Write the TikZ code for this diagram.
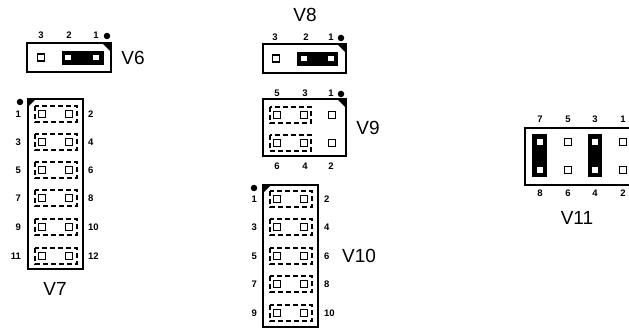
\documentclass[tikz,border=0pt]{standalone}
\usepackage{fontspec}
\setmainfont{Liberation Sans}
\tikzset{
	pin/.style={draw,fill=white,minimum size=7pt,inner sep=0pt,line width=1.1pt},
	num/.style={font=\fontsize{9.5}{10}\selectfont\bfseries,inner sep=0pt},
	tag/.style={font=\fontsize{19}{19}\selectfont,inner sep=0pt},
	hole/.style={fill=black,circle,minimum size=6.5pt,inner sep=0pt},
	board/.style={line width=1.1pt},
	jump/.style={dashed,dash pattern=on 5pt off 3pt,line width=1.1pt},
}
\begin{document}
\begin{tikzpicture}[x=1pt,y=-1pt]
	\useasboundingbox (0,0) rectangle (629,328);

	% V6
	\draw [board] (27,43) rectangle (111,72);
	\fill (111,43) -- (102,43) -- (111,52) -- cycle;
	\fill (62,51) rectangle (104,65);
	\node [pin] (v6a) at (41,57.5) {}; \node [pin] (v6b) at (68,57.5) {}; \node [pin] (v6c) at (96,57.5) {};
	\node [num] (v6n3) at (41,35) {3}; \node [num] (v6n2) at (69,35) {2}; \node [num] (v6n1) at (96,35) {1};
	\node [hole] (v6d) at (107,36) {};
	\node [tag] (v6) at (133,58) {V6};

	% V7
	\draw [board] (28,99) rectangle (83,269);
	\fill (28,99) -- (36,99) -- (28,107) -- cycle;
	\node [hole] (v7d) at (20,102) {};
	\foreach \i/\y/\l/\r in {1/114/1/2,2/142/3/4,3/170/5/6,4/198/7/8,5/227/9/10,6/256/11/12}{
		\draw [jump] (35,\y-8) rectangle (77,\y+8);
		\node [pin] (v7a\i) at (42,\y) {}; \node [pin] (v7b\i) at (69,\y) {};
		\node [num,anchor=east] (v7l\i) at (21,\y) {\l};
		\node [num,anchor=west] (v7r\i) at (88,\y) {\r};
	}
	\node [tag] (v7) at (55,289) {V7};

	% V8
	\node [tag] (v8) at (305,15) {V8};
	\draw [board] (263,44) rectangle (346,73);
	\fill (346,44) -- (337,44) -- (346,53) -- cycle;
	\fill (297,52) rectangle (338,66);
	\node [pin] (v8a) at (276,58.5) {}; \node [pin] (v8b) at (304,58.5) {}; \node [pin] (v8c) at (331,58.5) {};
	\node [num] (v8n3) at (275,37) {3}; \node [num] (v8n2) at (306,37) {2}; \node [num] (v8n1) at (331,37) {1};
	\node [hole] (v8d) at (341,38) {};

	% V9
	\draw [board] (263,99) rectangle (346,156);
	\fill (346,99) -- (337,99) -- (346,108) -- cycle;
	\foreach \i/\y in {1/115,2/143}{
		\draw [jump] (270,\y-8) rectangle (311,\y+8);
		\node [pin] (v9a\i) at (277,\y) {}; \node [pin] (v9b\i) at (304,\y) {}; \node [pin] (v9c\i) at (332,\y) {};
	}
	\foreach \x/\t/\b in {277/5/6,305/3/4,331/1/2}{
		\node [num] (v9t\t) at (\x,93) {\t};
		\node [num] (v9b\b) at (\x,166) {\b};
	}
	\node [hole] (v9d) at (341,94) {};
	\node [tag] (v9) at (368,128) {V9};

	% V10
	\draw [board] (263,185) rectangle (318,327);
	\fill (263,185) -- (271,185) -- (263,193) -- cycle;
	\node [hole] (v10d) at (254,188) {};
	\foreach \i/\y/\l/\r in {1/199/1/2,2/227/3/4,3/256/5/6,4/284/7/8,5/313/9/10}{
		\draw [jump] (270,\y-8) rectangle (312,\y+8);
		\node [pin] (v10a\i) at (277,\y) {}; \node [pin] (v10b\i) at (304,\y) {};
		\node [num,anchor=east] (v10l\i) at (257,\y) {\l};
		\node [num,anchor=west] (v10r\i) at (324,\y) {\r};
	}
	\node [tag] (v10) at (359,256) {V10};

	% V11
	\draw [board] (629,128) -- (525,128) -- (525,185) -- (629,185);
	\fill (532,134) rectangle (547,177);
	\fill (588,134) rectangle (602,177);
	\foreach \x/\t/\b in {540/7/8,568/5/6,595/3/4,623/1/2}{
		\node [pin] (v11a\t) at (\x,142) {}; \node [pin] (v11b\b) at (\x,170) {};
		\node [num] (v11t\t) at (\x,119) {\t};
		\node [num] (v11n\b) at (\x,193) {\b};
	}
	\node [tag] (v11) at (577,218) {V11};
\end{tikzpicture}
\end{document}
